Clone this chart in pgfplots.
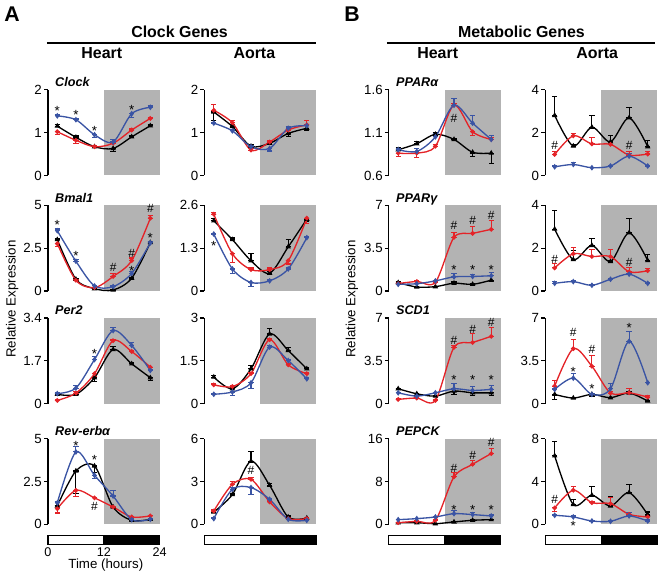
\documentclass[border=0pt]{standalone}
\usepackage{fontspec}
\setmainfont{Liberation Sans}
\usepackage{pgfplots}
\usepackage{pgfplotstable}
\pgfplotsset{compat=1.18}
\definecolor{cred}{RGB}{228,35,40}
\definecolor{cblue}{RGB}{58,84,164}
\definecolor{nightgray}{RGB}{179,179,179}

% columns: x, black (k), red (r), blue (b); *e = signed error (+ up, - down)
\pgfplotstableread{
x  k    ke    r    re    b    be
2  1.15 0.03  1.02 -0.07 1.39 0.03
6  0.89 0.03  0.82 -0.08 1.30 0.02
10 0.67 0.02  0.67 0.02  0.95 -0.07
14 0.63 -0.08 0.75 0.03  0.78 0.06
18 0.90 0.03  1.06 0.03  1.44 -0.08
22 1.16 0.02  1.33 0.03  1.59 0.03
}\clockH
\pgfplotstableread{
x  k    ke    r    re    b    be
2  1.48 -0.20 1.52 0.13  1.22 0.02
6  1.14 0.05  1.23 0.05  1.04 0.04
10 0.68 0.03  0.59 0.03  0.67 0.02
14 0.75 0.04  0.78 0.04  0.63 -0.06
18 0.98 -0.08 1.06 0.04  1.10 0.03
22 1.10 -0.05 1.18 0.10  1.16 0.03
}\clockA
\pgfplotstableread{
x  k    ke    r    re    b    be
2  0.90 0.02  0.86 -0.04 0.90 0.01
6  0.97 0.03  0.86 -0.05 0.88 0.03
10 1.08 0.02  0.94 0.02  1.05 0.04
14 1.02 0.01  1.42 0.02  1.42 0.08
18 0.87 -0.05 1.11 -0.04 1.21 0.09
22 0.86 -0.12 1.02 0.02  1.02 0.05
}\pparaH
\pgfplotstableread{
x  k    ke    r    re    b    be
2  2.80 0.87  0.98 0.12  0.40 0.05
6  1.37 0.08  1.85 0.10  0.51 0.10
10 2.25 0.55  1.47 0.30  0.36 0.02
14 1.57 0.30  1.45 0.10  0.44 0.03
18 2.69 0.50  0.95 0.15  0.90 0.12
22 1.34 0.30  1.00 0.10  0.44 0.03
}\pparaA
\pgfplotstableread{
x  k    ke    r    re    b    be
2  3.00 0.05  2.77 -0.15 3.52 0.10
6  0.69 0.05  0.63 0.05  1.74 0.10
10 0.14 0.03  0.20 0.03  0.30 0.05
14 0.06 0.03  0.85 0.15  0.26 0.05
18 0.75 0.05  1.78 0.15  1.03 0.10
22 2.83 0.05  4.25 0.15  2.81 0.10
}\bmalH
\pgfplotstableread{
x  k    ke    r    re    b    be
2  2.13 0.08  2.33 0.04  1.73 0.03
6  1.56 0.05  1.13 -0.25 0.67 -0.15
10 0.92 0.22  0.65 0.05  0.26 -0.13
14 0.54 0.05  0.65 0.05  0.31 0.03
18 1.34 0.22  0.92 -0.10 0.67 0.03
22 2.18 -0.08 2.21 -0.15 1.62 0.03
}\bmalA
\pgfplotstableread{
x  k    ke    r    re    b    be
2  0.69 0.05  0.61 0.05  0.55 0.05
6  0.33 0.05  0.78 0.05  0.60 0.05
10 0.36 0.05  0.72 0.05  0.83 0.05
14 0.64 0.10  4.38 0.40  1.16 0.25
18 0.55 0.10  4.71 0.60  1.19 0.15
22 0.89 0.35  5.04 0.75  1.25 0.30
}\ppargH
\pgfplotstableread{
x  k    ke    r    re    b    be
2  2.89 0.87  1.08 0.20  0.36 0.08
6  1.47 0.42  1.74 0.30  0.44 0.05
10 2.13 0.32  1.61 0.35  0.27 0.03
14 1.38 0.05  1.61 0.35  0.55 0.05
18 2.72 0.68  0.90 0.20  0.79 0.05
22 1.42 0.30  0.95 0.12  0.36 0.05
}\ppargA
\pgfplotstableread{
x  k    ke    r    re    b    be
2  0.37 0.03  0.13 0.03  0.40 0.05
6  0.37 0.05  0.42 0.05  0.62 0.12
10 1.03 -0.15 1.19 -0.10 1.75 0.12
14 2.15 0.12  2.50 0.05  2.90 0.12
18 1.58 0.05  2.07 0.05  2.31 0.10
22 1.03 -0.12 1.45 -0.08 1.32 0.05
}\perH
\pgfplotstableread{
x  k    ke    r    re    b    be
2  0.93 0.05  0.66 0.05  0.33 0.02
6  0.52 0.05  0.60 0.03  0.41 -0.12
10 1.22 0.12  1.05 0.05  0.73 -0.20
14 2.44 0.20  2.24 0.05  1.98 0.05
18 1.86 0.10  1.36 0.05  1.51 0.05
22 1.22 0.05  1.05 0.05  0.87 0.05
}\perA
\pgfplotstableread{
x  k    ke    r    re    b    be
2  1.22 0.05  0.35 0.05  0.89 0.05
6  0.81 0.05  0.46 0.05  0.62 0.05
10 0.62 0.05  0.27 0.05  0.89 0.05
14 1.03 -0.25 4.60 0.15  1.22 0.45
18 0.89 -0.20 5.00 0.70  1.08 0.35
22 0.89 -0.20 5.50 0.70  1.17 0.35
}\scdH
\pgfplotstableread{
x  k    ke    r    re    b    be
2  0.76 -0.40 1.44 0.45  1.17 0.05
6  0.46 0.05  4.49 0.75  2.09 0.40
10 0.76 -0.20 3.06 0.85  0.76 0.10
14 0.49 0.05  0.87 0.10  1.22 0.40
18 0.87 0.10  0.89 0.35  5.10 0.80
22 0.22 0.05  0.54 0.10  1.71 0.05
}\scdA
\pgfplotstableread{
x  k    ke    r    re    b    be
2  1.07 0.05  0.91 -0.25 1.25 0.05
6  3.11 -1.30 1.98 -0.35 4.22 0.30
10 3.40 -0.40 1.54 0.05  2.86 -0.20
14 1.01 0.05  1.01 0.05  1.65 0.30
18 0.23 0.05  0.43 0.05  0.27 0.05
22 0.29 0.05  0.49 0.05  0.29 0.05
}\revH
\pgfplotstableread{
x  k    ke    r    re    b    be
2  0.86 0.10  0.93 0.10  0.40 0.05
6  2.08 0.10  2.80 0.20  2.45 0.10
10 4.42 0.68  3.15 0.10  2.57 -0.50
14 2.73 0.10  1.57 0.10  1.75 0.05
18 0.51 0.10  0.40 0.05  0.35 0.05
22 0.44 0.05  0.40 0.05  0.28 0.05
}\revA
\pgfplotstableread{
x  k    ke    r    re    b    be
2  0.30 0.10  0.30 0.10  0.87 0.10
6  0.30 0.10  0.56 0.10  1.06 0.10
10 0.12 0.10  0.75 0.10  1.37 0.10
14 0.44 0.10  8.84 0.80  1.99 0.60
18 0.75 0.10  11.2 0.75  1.81 0.40
22 0.87 0.10  13.2 1.00  1.56 0.30
}\pepH
\pgfplotstableread{
x  k    ke    r    re    b    be
2  6.39 1.37  1.53 -0.30 0.84 0.10
6  1.84 0.50  3.18 0.35  0.69 0.10
10 2.71 0.78  2.02 0.10  0.31 0.05
14 1.71 0.84  1.93 0.60  0.28 0.05
18 2.96 0.75  0.93 0.20  0.78 0.30
22 0.90 0.25  0.69 0.10  0.31 0.10
}\pepA

\pgfplotsset{
  panel/.style={scale only axis, width=84pt, height=64.5pt,
    xmin=0, xmax=24, anchor=north west, clip=false,
    axis x line=none, axis y line*=left,
    axis line style={line width=0.9pt},
    tick align=outside, major tick length=3pt,
    y tick style={line width=0.9pt, black},
    yticklabel style={font=\fontsize{10}{11}\selectfont, inner sep=1.5pt}},
  ser/.style={line width=1pt, smooth, mark size=1.2pt, mark options={solid},
    error bars/y dir=both, error bars/y explicit,
    error bars/error bar style={line width=0.8pt},
    error bars/error mark options={rotate=90, mark size=2pt, line width=0.8pt}},
}
\tikzset{
  gene/.style={font=\bfseries\itshape\fontsize{9.5}{10}\selectfont, anchor=base west, xshift=5.25pt, yshift=2.25pt, inner sep=0pt},
  st/.style={font=\fontsize{10}{10}\selectfont, inner sep=0pt, yshift=-2.2pt},
  hs/.style={font=\fontsize{9}{10}\selectfont, inner sep=0pt},
}
\newcommand\trio[1]{%
  \addplot[ser, black, mark=triangle*, mark size=1.4pt] table[x=x, y=k,
    y error plus expr={max(\thisrow{ke},0)}, y error minus expr={max(0-(\thisrow{ke}),0)}] {#1};
  \addplot[ser, cred, mark=*] table[x=x, y=r,
    y error plus expr={max(\thisrow{re},0)}, y error minus expr={max(0-(\thisrow{re}),0)}] {#1};
  \addplot[ser, cblue, mark=diamond*, mark size=1.4pt] table[x=x, y=b,
    y error plus expr={max(\thisrow{be},0)}, y error minus expr={max(0-(\thisrow{be}),0)}] {#1};
}
\newcommand\night{\fill[nightgray] (rel axis cs:0.5,0) rectangle (rel axis cs:1,1);}

\begin{document}
\begin{tikzpicture}
\begin{scope}[x=0.75pt, y=-0.75pt]
\path[use as bounding box] (0,0) rectangle (661,578);
\end{scope}

% ---------- row 1 ----------
\begin{axis}[panel, at={(34.5pt,-67.5pt)}, ymin=0, ymax=2, ytick={0,1,2}, yticklabels={0,1,2}]
\night \trio{\clockH}
\node[gene] at (rel axis cs:0,1) {Clock};
\node[st] at (axis cs:2,1.57) {*};
\node[st] at (axis cs:6,1.47) {*};
\node[st] at (axis cs:10,1.11) {*};
\node[st] at (axis cs:18,1.6) {*};
\end{axis}
\begin{axis}[panel, at={(152.25pt,-67.5pt)}, ymin=0, ymax=2, ytick={0,1,2}, yticklabels={0,1,2}]
\night \trio{\clockA}
\end{axis}
\begin{axis}[panel, at={(291pt,-67.5pt)}, ymin=0.6, ymax=1.6, ytick={0.6,1.1,1.6}, yticklabels={0.6,1.1,1.6}]
\night \trio{\pparaH}
\node[gene] at (rel axis cs:0,1) {PPARα};
\node[hs] at (axis cs:14,1.26) {\#};
\end{axis}
\begin{axis}[panel, at={(408.75pt,-67.5pt)}, ymin=0, ymax=4, ytick={0,2,4}, yticklabels={0,2,4}]
\night \trio{\pparaA}
\node[hs] at (axis cs:2,1.42) {\#};
\node[hs] at (axis cs:18,1.42) {\#};
\end{axis}

% ---------- row 2 ----------
\begin{axis}[panel, at={(34.5pt,-154.5pt)}, ymin=0, ymax=5, ytick={0,2.5,5}, yticklabels={0,2.5,5}]
\night \trio{\bmalH}
\node[gene] at (rel axis cs:0,1) {Bmal1};
\node[st] at (axis cs:2,4.0) {*};
\node[st] at (axis cs:6,2.2) {*};
\node[hs] at (axis cs:14,1.38) {\#};
\node[hs] at (axis cs:18,2.17) {\#};
\node[st] at (axis cs:18,1.34) {*};
\node[hs] at (axis cs:22,4.8) {\#};
\node[st] at (axis cs:22,3.26) {*};
\end{axis}
\begin{axis}[panel, at={(152.25pt,-154.5pt)}, ymin=0, ymax=2.6, ytick={0,1.3,2.6}, yticklabels={0,1.3,2.6}]
\night \trio{\bmalA}
\node[st] at (axis cs:2,1.46) {*};
\end{axis}
\begin{axis}[panel, at={(291pt,-154.5pt)}, ymin=0, ymax=7, ytick={0,3.5,7}, yticklabels={0,3.5,7}]
\night \trio{\ppargH}
\node[gene] at (rel axis cs:0,1) {PPARγ};
\node[hs] at (axis cs:14,5.4) {\#};
\node[hs] at (axis cs:18,5.8) {\#};
\node[hs] at (axis cs:22,6.2) {\#};
\node[st] at (axis cs:14,2.0) {*};
\node[st] at (axis cs:18,2.0) {*};
\node[st] at (axis cs:22,2.0) {*};
\end{axis}
\begin{axis}[panel, at={(408.75pt,-154.5pt)}, ymin=0, ymax=4, ytick={0,2,4}, yticklabels={0,2,4}]
\night \trio{\ppargA}
\node[hs] at (axis cs:2,1.5) {\#};
\node[hs] at (axis cs:18,1.35) {\#};
\end{axis}

% ---------- row 3 ----------
\begin{axis}[panel, at={(34.5pt,-239.25pt)}, ymin=0, ymax=3.4, ytick={0,1.7,3.4}, yticklabels={0,1.7,3.4}]
\night \trio{\perH}
\node[gene] at (rel axis cs:0,1) {Per2};
\node[st] at (axis cs:10,2.1) {*};
\end{axis}
\begin{axis}[panel, at={(152.25pt,-239.25pt)}, ymin=0, ymax=3, ytick={0,1.5,3}, yticklabels={0,1.5,3}]
\night \trio{\perA}
\end{axis}
\begin{axis}[panel, at={(291pt,-239.25pt)}, ymin=0, ymax=7, ytick={0,3.5,7}, yticklabels={0,3.5,7}]
\night \trio{\scdH}
\node[gene] at (rel axis cs:0,1) {SCD1};
\node[hs] at (axis cs:14,5.2) {\#};
\node[hs] at (axis cs:18,6.1) {\#};
\node[hs] at (axis cs:22,6.6) {\#};
\node[st] at (axis cs:14,2.2) {*};
\node[st] at (axis cs:18,2.2) {*};
\node[st] at (axis cs:22,2.2) {*};
\end{axis}
\begin{axis}[panel, at={(408.75pt,-239.25pt)}, ymin=0, ymax=7, ytick={0,3.5,7}, yticklabels={0,3.5,7}]
\night \trio{\scdA}
\node[hs] at (axis cs:6,5.8) {\#};
\node[hs] at (axis cs:10,4.45) {\#};
\node[st] at (axis cs:6,2.85) {*};
\node[st] at (axis cs:10,1.45) {*};
\node[st] at (axis cs:18,6.4) {*};
\end{axis}

% ---------- row 4 ----------
\begin{axis}[panel, at={(34.5pt,-330pt)}, ymin=0, ymax=5, ytick={0,2.5,5}, yticklabels={0,2.5,5}]
\night \trio{\revH}
\node[gene] at (rel axis cs:0,1) {Rev-erbα};
\node[st] at (axis cs:6,4.75) {*};
\node[st] at (axis cs:10,3.95) {*};
\node[hs] at (axis cs:10,1.05) {\#};
\end{axis}
\begin{axis}[panel, at={(152.25pt,-330pt)}, ymin=0, ymax=6, ytick={0,3,6}, yticklabels={0,3,6}]
\night \trio{\revA}
\node[hs] at (axis cs:10,3.8) {\#};
\end{axis}
\begin{axis}[panel, at={(291pt,-330pt)}, ymin=0, ymax=16, ytick={0,8,16}, yticklabels={0,8,16}]
\night \trio{\pepH}
\node[gene] at (rel axis cs:0,1) {PEPCK};
\node[hs] at (axis cs:14,10.5) {\#};
\node[hs] at (axis cs:18,12.8) {\#};
\node[hs] at (axis cs:22,15.3) {\#};
\node[st] at (axis cs:14,3.2) {*};
\node[st] at (axis cs:18,3.2) {*};
\node[st] at (axis cs:22,3.2) {*};
\end{axis}
\begin{axis}[panel, at={(408.75pt,-330pt)}, ymin=0, ymax=8, ytick={0,4,8}, yticklabels={0,4,8}]
\night \trio{\pepA}
\node[hs] at (axis cs:2,2.3) {\#};
\node[st] at (axis cs:6,0.16) {*};
\end{axis}

% ---------- headings, labels, light/dark bars ----------
\begin{scope}[x=0.75pt, y=-0.75pt]
\node[font=\bfseries\fontsize{16}{16}\selectfont] at (10,14) {A};
\node[font=\bfseries\fontsize{16}{16}\selectfont] at (351,14) {B};
\begin{scope}[every node/.style={font=\bfseries\fontsize{12}{12}\selectfont}]
\node at (178,32) {Clock Genes};
\node at (521,32) {Metabolic Genes};
\node at (100,53) {Heart};
\node at (253,53) {Aorta};
\node at (437,53) {Heart};
\node at (597,53) {Aorta};
\end{scope}
\draw[line width=1.1pt] (45,43) -- (315,43);
\draw[line width=1.1pt] (386,43) -- (655,43);
\node[rotate=90, font=\fontsize{10}{12}\selectfont] at (10,300) {Relative Expression};
\node[rotate=90, font=\fontsize{10}{12}\selectfont] at (351,300) {Relative Expression};
\foreach \L in {46,203,388,545}{
  \draw[line width=0.8pt, fill=white] (\L,537) rectangle (\L+56,546);
  \draw[line width=0.8pt, fill=black] (\L+56,537) rectangle (\L+112,546);
}
\begin{scope}[every node/.style={font=\fontsize{9.5}{10}\selectfont}]
\node at (46,554) {0};
\node at (102,554) {12};
\node at (158,554) {24};
\end{scope}
\node[font=\fontsize{10}{12}\selectfont] at (104,567) {Time (hours)};
\end{scope}
\end{tikzpicture}
\end{document}
